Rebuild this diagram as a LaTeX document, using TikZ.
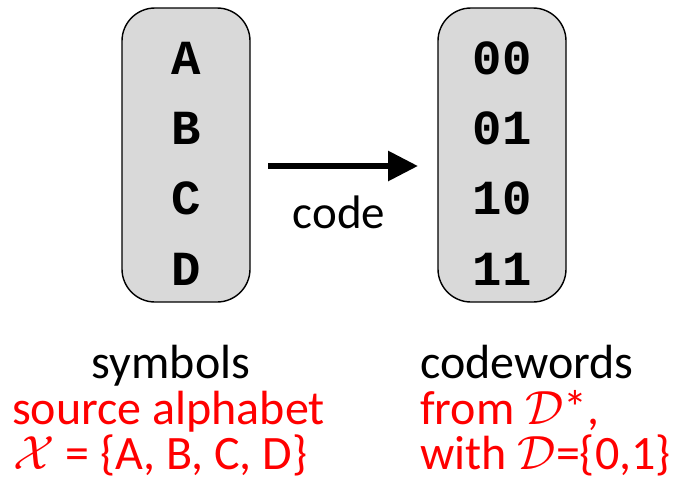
\documentclass[tikz,border=0pt]{standalone}
\usepackage{fix-cm}
\usepackage{fontspec}
\setmainfont{Carlito}
\setmonofont{Liberation Mono}
\usetikzlibrary{arrows.meta}
\definecolor{boxgray}{HTML}{D9D9D9}
\definecolor{redtxt}{HTML}{FF0000}
\begin{document}
\begin{tikzpicture}[x=1pt,y=1pt,
  listbox/.style={draw=black, line width=1.4pt, fill=boxgray, rounded corners=33pt,
    minimum width=128pt, minimum height=294pt, inner sep=0pt},
  entry/.style={anchor=base, font=\fontsize{49}{49}\selectfont\ttfamily\bfseries, inner sep=0pt},
  caption/.style={anchor=base west, font=\fontsize{48}{45}\selectfont, inner sep=0pt},
  redcap/.style={caption, text=redtxt},
  maparrow/.style={line width=6pt, -{Triangle[length=30pt,width=29pt]}}]
\useasboundingbox (0,0) rectangle (675,-482);

% the two lists
\node[listbox] (src) at (186,-155) {};
\node[listbox] (dst) at (502,-155) {};

\node[entry] (sA) at (186,-74) {A};
\node[entry] (sB) at (186,-144) {B};
\node[entry] (sC) at (186,-214) {C};
\node[entry] (sD) at (186,-285) {D};

\node[entry] (c00) at (502,-74) {00};
\node[entry] (c01) at (502,-144) {01};
\node[entry] (c10) at (502,-214) {10};
\node[entry] (c11) at (502,-285) {11};

% the mapping arrow
\coordinate (arrS) at (268,-166);
\coordinate (arrE) at (418,-166);
\draw[maparrow] (arrS) -- (arrE);
\node[anchor=base, font=\fontsize{47}{45}\selectfont, inner sep=0pt] (lbl) at (339,-228) {code};

% captions
\node[anchor=base, font=\fontsize{48}{45}\selectfont, inner sep=0pt] (symb) at (171,-378) {symbols};
\node[redcap] (alph) at (12,-424) {source alphabet};
\node[redcap] (xset) at (13,-469) {$\mathcal{X}$ = \{A, B, C, D\}};

\node[caption] (cw) at (420,-378) {codewords};
\node[redcap] (from) at (420,-424) {from $\mathcal{D}$*,};
\node[redcap] (with) at (420,-469) {with $\mathcal{D}$=\{0,1\}};
\end{tikzpicture}
\end{document}
